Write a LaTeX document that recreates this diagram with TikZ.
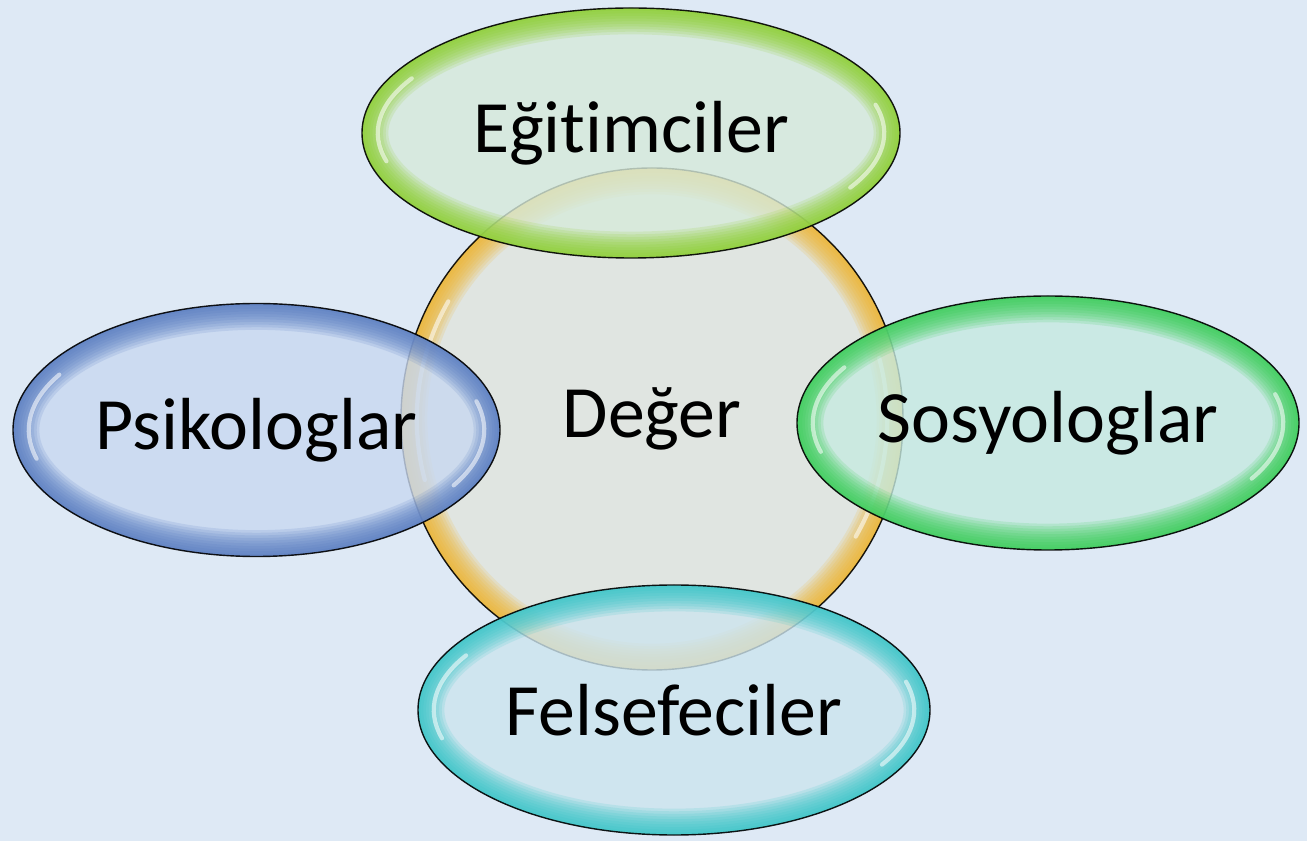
\documentclass[tikz,border=0pt]{standalone}
\usepackage{fontspec}
\setmainfont{Carlito}[Ligatures={NoCommon,NoContextual}]
\usetikzlibrary{shapes.geometric}

\definecolor{bgblue}{RGB}{222,233,245}
\definecolor{paleyel}{RGB}{225,229,220}
\definecolor{edgeyel}{RGB}{240,178,36}
\definecolor{palelime}{RGB}{214,234,218}
\definecolor{edgelime}{RGB}{136,206,36}
\definecolor{paleblue}{RGB}{200,216,240}
\definecolor{edgeblue}{RGB}{80,118,190}
\definecolor{palegreen}{RGB}{198,234,224}
\definecolor{edgegreen}{RGB}{46,204,76}
\definecolor{palecyan}{RGB}{204,228,238}
\definecolor{edgecyan}{RGB}{46,196,198}

% x radius, y radius, pale fill, rim colour
\tikzset{bubble/.style n args={4}{ellipse, draw=black, line width=0.8pt, inner sep=0pt,
    minimum width=2*#1, minimum height=2*#2,
    fill=#3, fill opacity=0.8, draw opacity=0.9, text opacity=1,
    font=\fontsize{42}{50}\selectfont,
    path picture={
      \foreach \k in {1,...,10}
        \draw[#4, line width=\k*3pt, draw opacity=0.15]
          (path picture bounding box.center) ellipse [x radius=#1, y radius=#2];
      % glossy highlights
      \draw[white, line width=2.4pt, draw opacity=0.55, line cap=round]
        (path picture bounding box.center) ++(150:{#1-9pt} and {#2-9pt})
        arc[start angle=150, end angle=195, x radius={#1-9pt}, y radius={#2-9pt}];
      \draw[white, line width=2.4pt, draw opacity=0.55, line cap=round]
        (path picture bounding box.center) ++(-30:{#1-9pt} and {#2-9pt})
        arc[start angle=-30, end angle=15, x radius={#1-9pt}, y radius={#2-9pt}];
    }}}

\begin{document}
\begin{tikzpicture}
  \fill[bgblue] (0,0) rectangle (26.14,16.82);
  \useasboundingbox (0,0) rectangle (26.14,16.82);

  \node[bubble={5.02cm}{5.02cm}{paleyel}{edgeyel}] (deger) at (13.04,8.44) {Değer};
  \node[bubble={5.38cm}{2.5cm}{palelime}{edgelime}] (egit) at (12.62,14.16) {Eğitimciler};
  \node[bubble={4.87cm}{2.53cm}{paleblue}{edgeblue}] (psiko) at (5.13,8.22) {Psikologlar};
  \node[bubble={5.02cm}{2.54cm}{palegreen}{edgegreen}] (sosyo) at (20.96,8.36) {Sosyologlar};
  \node[bubble={5.12cm}{2.5cm}{palecyan}{edgecyan}] (felse) at (13.48,2.62) {Felsefeciler};
\end{tikzpicture}
\end{document}
